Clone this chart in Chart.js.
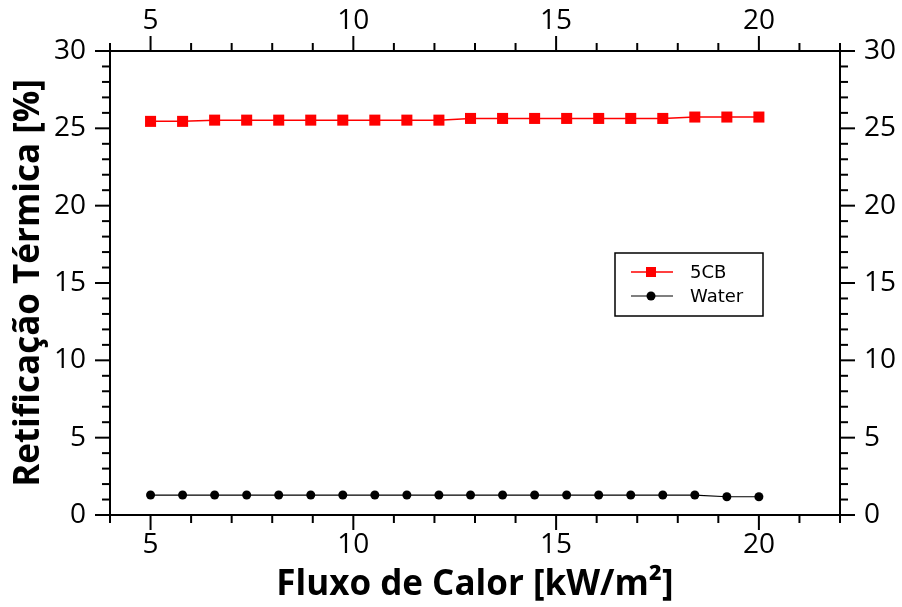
<!DOCTYPE html>
<html>
<head>
<meta charset="utf-8">
<script src="https://cdn.jsdelivr.net/npm/chart.js@4"></script>
<style>
  html, body { margin: 0; padding: 0; background: #fff; }
  #wrap { width: 902px; height: 607px; }
</style>
</head>
<body>
<div id="wrap"><canvas id="rectChart" width="902" height="607"></canvas></div>
<script>
// heat flux values (kW/m2), 20 points from 5 to 20
var fluxo = [5, 5.79, 6.58, 7.37, 8.16, 8.95, 9.74, 10.53, 11.32, 12.11,
             12.89, 13.68, 14.47, 15.26, 16.05, 16.84, 17.63, 18.42, 19.21, 20];
var ret5CB = [25.45, 25.45, 25.53, 25.53, 25.53, 25.53, 25.53, 25.53, 25.53, 25.53,
              25.64, 25.64, 25.64, 25.64, 25.64, 25.64, 25.64, 25.73, 25.73, 25.73];
var retWater = [1.29, 1.29, 1.29, 1.29, 1.29, 1.29, 1.29, 1.29, 1.29, 1.29,
                1.29, 1.29, 1.29, 1.29, 1.29, 1.29, 1.29, 1.29, 1.18, 1.18];
var xTickLabels = [5, 10, 15, 20];
var yTickLabels = [0, 5, 10, 15, 20, 25, 30];

function pts(xs, ys) {
    return xs.map(function (x, i) { return { x: x, y: ys[i] }; });
}

var tickFont = { family: 'Open Sans', size: 28 };
var titleFont = { family: 'Open Sans', size: 35, weight: 'bold' };

function labelCb(list) {
    return function (v) { return list.indexOf(v) >= 0 ? String(v) : ''; };
}

// outward ticks: long at labelled values, short elsewhere
var outTicks = {
    id: 'outTicks',
    afterDraw: function (chart) {
        var c = chart.ctx, a = chart.chartArea;
        c.save();
        c.strokeStyle = '#000';
        c.lineWidth = 2;
        ['x', 'x2'].forEach(function (id) {
            var s = chart.scales[id];
            for (var v = s.min; v <= s.max; v++) {
                var px = s.getPixelForValue(v);
                var len = xTickLabels.indexOf(v) >= 0 ? 15 : 8;
                c.beginPath();
                if (id === 'x') { c.moveTo(px, a.bottom); c.lineTo(px, a.bottom + len); }
                else { c.moveTo(px, a.top); c.lineTo(px, a.top - len); }
                c.stroke();
            }
        });
        ['y', 'y2'].forEach(function (id) {
            var s = chart.scales[id];
            for (var v = s.min; v <= s.max; v++) {
                var py = s.getPixelForValue(v);
                var len = yTickLabels.indexOf(v) >= 0 ? 15 : 8;
                c.beginPath();
                if (id === 'y') { c.moveTo(a.left, py); c.lineTo(a.left - len, py); }
                else { c.moveTo(a.right, py); c.lineTo(a.right + len, py); }
                c.stroke();
            }
        });
        c.restore();
    }
};

// legend box inside the plot
var boxLegend = {
    id: 'boxLegend',
    afterDraw: function (chart) {
        var c = chart.ctx, a = chart.chartArea;
        var bx = a.left + 505, by = a.top + 202, bw = 148, bh = 63;
        c.save();
        c.fillStyle = '#fff';
        c.fillRect(bx, by, bw, bh);
        c.strokeStyle = '#000';
        c.lineWidth = 1.5;
        c.strokeRect(bx, by, bw, bh);
        chart.data.datasets.forEach(function (ds, i) {
            var y = by + 19 + i * 24;
            c.strokeStyle = ds.borderColor;
            c.lineWidth = ds.borderWidth;
            c.beginPath();
            c.moveTo(bx + 16, y);
            c.lineTo(bx + 58, y);
            c.stroke();
            c.fillStyle = ds.pointBackgroundColor;
            if (ds.pointStyle === 'rect') {
                c.fillRect(bx + 36 - 5, y - 5, 10, 10);
            } else {
                c.beginPath();
                c.arc(bx + 36, y, 4.5, 0, Math.PI * 2);
                c.fill();
            }
            c.fillStyle = '#000';
            c.font = '18px "DejaVu Sans"';
            c.textBaseline = 'middle';
            c.fillText(ds.label, bx + 75, y + 1);
        });
        c.restore();
    }
};

var axisBorder = { display: true, color: '#000', width: 2 };
var noGrid = { display: false, drawOnChartArea: false, drawTicks: false };

var ctx = document.getElementById('rectChart').getContext('2d');
var rectChart = new Chart(ctx, {
    type: 'scatter',
    data: {
        datasets: [
            {
                label: '5CB',
                data: pts(fluxo, ret5CB),
                showLine: true,
                borderColor: '#ff0000',
                borderWidth: 1.5,
                pointStyle: 'rect',
                pointRadius: 7.8,
                pointBackgroundColor: '#ff0000',
                pointBorderWidth: 0
            },
            {
                label: 'Water',
                data: pts(fluxo, retWater),
                showLine: true,
                borderColor: '#000000',
                borderWidth: 1.2,
                pointStyle: 'circle',
                pointRadius: 4.5,
                pointBackgroundColor: '#000000',
                pointBorderWidth: 0
            }
        ]
    },
    options: {
        responsive: false,
        animation: false,
        layout: { padding: 0 },
        plugins: {
            legend: { display: false },
            tooltip: { enabled: false }
        },
        scales: {
            x: {
                type: 'linear', position: 'bottom', min: 4, max: 22,
                grid: noGrid, border: axisBorder,
                ticks: { stepSize: 1, autoSkip: false, maxRotation: 0, color: '#000',
                         font: tickFont, padding: 13, callback: labelCb(xTickLabels) },
                title: { display: true, text: 'Fluxo de Calor [kW/m²]', color: '#000',
                         font: titleFont, padding: { top: 0, bottom: 1 } },
                afterFit: function (s) { s.height = 92; }
            },
            x2: {
                type: 'linear', position: 'top', min: 4, max: 22,
                grid: noGrid, border: axisBorder,
                ticks: { stepSize: 1, autoSkip: false, maxRotation: 0, color: '#000',
                         font: tickFont, padding: 13, callback: labelCb(xTickLabels) },
                afterFit: function (s) { s.height = 51; }
            },
            y: {
                type: 'linear', position: 'left', min: 0, max: 30,
                grid: noGrid, border: axisBorder,
                ticks: { stepSize: 1, autoSkip: false, color: '#000',
                         font: tickFont, padding: 24, callback: labelCb(yTickLabels) },
                title: { display: true, text: 'Retificação Térmica [%]', color: '#000',
                         font: titleFont, padding: { top: 8, bottom: 0 } },
                afterFit: function (s) { s.width = 110; }
            },
            y2: {
                type: 'linear', position: 'right', min: 0, max: 30,
                grid: noGrid, border: axisBorder,
                ticks: { stepSize: 1, autoSkip: false, color: '#000',
                         font: tickFont, padding: 24, callback: labelCb(yTickLabels) },
                afterFit: function (s) { s.width = 62; }
            }
        }
    },
    plugins: [outTicks, boxLegend]
});
</script>
</body>
</html>
